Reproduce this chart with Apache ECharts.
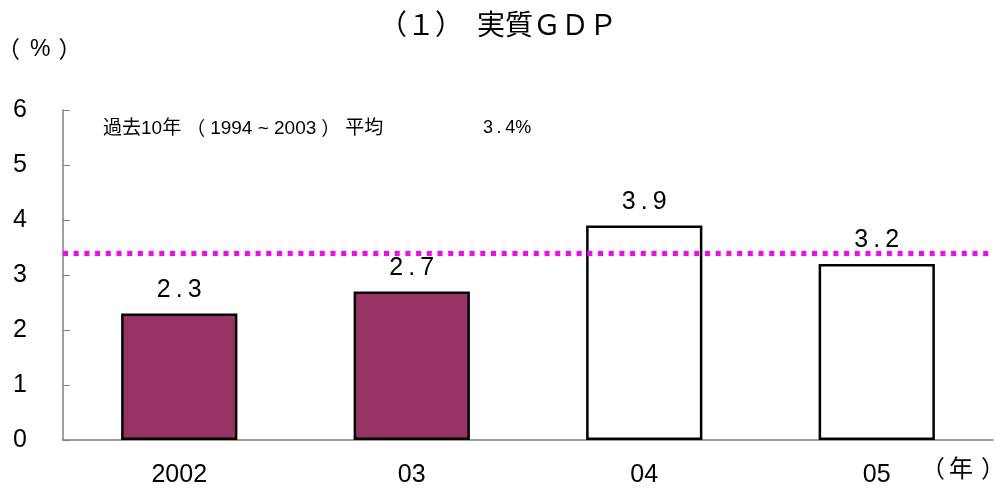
<!DOCTYPE html>
<html>
<head>
<meta charset="utf-8">
<script src="https://cdn.jsdelivr.net/npm/echarts@6/dist/echarts.min.js"></script>
<style>
html,body{margin:0;padding:0;background:#fff;}
#chart{width:996px;height:489px;}
</style>
</head>
<body>
<div id="chart"></div>
<script>
// Real GDP growth by year (%)
const categories = ['2002', '03', '04', '05'];
const growth = [2.3, 2.7, 3.9, 3.2];
// Actual results are filled, forecasts are hollow
const isForecast = [false, false, true, true];
// 10-year average (1994-2003)
const avgValue = 3.4;
const avgPeriod = ['1994', '2003'];
const yTicks = [0, 1, 2, 3, 4, 5, 6];

const spaced = s => String(s).split('').join('\u2009');
const fontLatin = '"Liberation Sans", Arial, sans-serif';
const fontCJK = '"Noto Sans CJK JP", sans-serif';
const fontMixed = '"Liberation Sans", "Noto Sans CJK JP", sans-serif';

const chart = echarts.init(document.getElementById('chart'), null, {renderer: 'canvas'});

chart.setOption({
  animation: false,
  backgroundColor: '#fff',
  title: {
    text: '（１）　実質ＧＤＰ',
    left: 'center',
    top: 5,
    textStyle: {fontFamily: fontCJK, fontSize: 28, fontWeight: 'normal', color: '#000'}
  },
  grid: {left: 63, right: 3, top: 110, bottom: 49},
  xAxis: {
    type: 'category',
    data: categories,
    axisLine: {lineStyle: {color: '#808080', width: 1.5}},
    axisTick: {inside: true, length: 6, lineStyle: {color: '#808080'}},
    axisLabel: {fontFamily: fontLatin, fontSize: 25, color: '#000', margin: 23}
  },
  yAxis: {
    type: 'value',
    min: yTicks[0],
    max: yTicks[yTicks.length - 1],
    interval: 1,
    splitLine: {show: false},
    axisLine: {show: true, lineStyle: {color: '#808080', width: 1.5}},
    axisTick: {show: true, inside: true, length: 7, lineStyle: {color: '#808080'}},
    axisLabel: {fontFamily: fontLatin, fontSize: 25, color: '#000', margin: 36}
  },
  graphic: [
    {
      type: 'text', left: -3, top: 38,
      style: {
        text: '{p|（}{u|%}{p|）}',
        rich: {
          p: {font: '23px ' + fontCJK, fill: '#000'},
          u: {font: '23px ' + fontLatin, fill: '#000', padding: [0, 8, 0, 10]}
        }
      }
    },
    {
      type: 'text', left: 921, top: 456,
      style: {
        text: '{p|（}{u|年}{p|）}',
        rich: {
          p: {font: '24px ' + fontCJK, fill: '#000'},
          u: {font: '24px ' + fontCJK, fill: '#000', padding: [0, 8, 0, 4]}
        }
      }
    },
    {
      type: 'text', left: 103, top: 119,
      style: {
        text: '過去10年{p|（}' + avgPeriod[0] + ' ~ ' + avgPeriod[1] + '{p|）}平均',
        font: '19px ' + fontMixed,
        fill: '#000',
        rich: {
          p: {font: '19px ' + fontCJK, fill: '#000', padding: [0, 5]}
        }
      }
    },
    {
      type: 'text', left: 483, top: 119,
      style: {text: spaced(avgValue.toFixed(1)) + '%', font: '18px ' + fontLatin, fill: '#000'}
    }
  ],
  series: [{
    type: 'bar',
    barWidth: '50%',
    data: growth.map((v, i) => ({
      value: v,
      itemStyle: isForecast[i]
        ? {color: '#ffffff', borderColor: '#000', borderWidth: 2.5}
        : {color: '#993366', borderColor: '#000', borderWidth: 2.5}
    })),
    label: {
      show: true,
      position: 'top',
      distance: 11,
      fontFamily: fontLatin,
      fontSize: 25,
      color: '#000',
      formatter: p => spaced(p.value.toFixed(1))
    },
    markLine: {
      silent: true,
      symbol: 'none',
      label: {show: false},
      lineStyle: {color: '#ff00ff', width: 5, type: [5, 5.7]},
      data: [{yAxis: avgValue}]
    },
    z: 2
  }]
});
</script>
</body>
</html>
